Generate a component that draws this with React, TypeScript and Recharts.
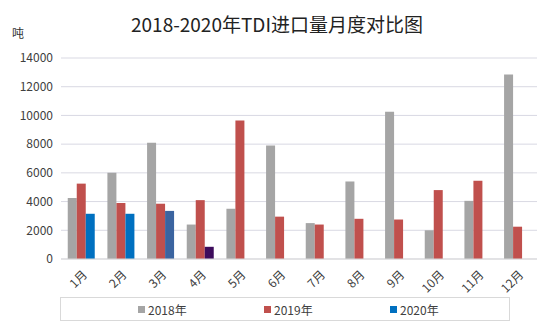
import { BarChart, Bar, XAxis, YAxis, CartesianGrid, Cell } from "recharts";

const months = ["1月", "2月", "3月", "4月", "5月", "6月", "7月", "8月", "9月", "10月", "11月", "12月"];
const y2018 = [4250, 6000, 8100, 2400, 3500, 7900, 2500, 5400, 10250, 2000, 4050, 12850];
const y2019 = [5250, 3900, 3850, 4100, 9650, 2950, 2400, 2800, 2750, 4800, 5450, 2250];
const y2020 = [3150, 3150, 3350, 850, null, null, null, null, null, null, null, null];
const yTicks = [0, 2000, 4000, 6000, 8000, 10000, 12000, 14000];

const series = [
  { key: "y2018", label: "2018年", color: "#a5a5a5" },
  { key: "y2019", label: "2019年", color: "#c0504d" },
  { key: "y2020", label: "2020年", color: "#0070c0" },
];
// the 2020 bars for March and April are drawn in their own shades
const color2020 = ["#0070c0", "#0070c0", "#3b64a0", "#3d0c5c"];

const data = months.map((m, i) => ({ month: m, y2018: y2018[i], y2019: y2019[i], y2020: y2020[i] }));

const font = "'Noto Sans CJK SC', 'Noto Sans', sans-serif";

function MonthTick({ x, y, payload }: any) {
  return (
    <g transform={`translate(${x},${y})`}>
      <text x={0} y={0} dy={11} dx={-1} textAnchor="end" transform="rotate(-45)" fill="#404040" fontSize={12} fontFamily={font}>
        {payload.value}
      </text>
    </g>
  );
}

export default function App() {
  return (
    <div style={{ position: "absolute", left: 0, top: 0, width: 554, height: 334, background: "#fff", fontFamily: font }}>
      <div style={{ position: "absolute", top: 10, left: 0, width: 554, textAlign: "center", fontSize: 19, color: "#222" }}>
        2018-2020年TDI进口量月度对比图
      </div>
      <div style={{ position: "absolute", top: 24, left: 12, fontSize: 12, color: "#333" }}>吨</div>
      <BarChart width={554} height={334} data={data} margin={{ top: 58, right: 17, left: 9, bottom: 35 }} barGap={0} barCategoryGap="17%">
        <CartesianGrid vertical={false} stroke="#d9d9e3" />
        <XAxis dataKey="month" tick={<MonthTick />} tickLine={false} axisLine={{ stroke: "#d9d9d9" }} interval={0} height={40} />
        <YAxis domain={[0, 14000]} ticks={yTicks} tickLine={false} axisLine={false} width={52} tick={{ fill: "#404040", fontSize: 12, fontFamily: font }} />
        <Bar dataKey="y2018" fill="#a5a5a5" isAnimationActive={false} />
        <Bar dataKey="y2019" fill="#c0504d" isAnimationActive={false} />
        <Bar dataKey="y2020" fill="#0070c0" isAnimationActive={false}>
          {data.map((d, i) => (
            <Cell key={d.month} fill={color2020[i] || "#0070c0"} />
          ))}
        </Bar>
      </BarChart>
      <div style={{ position: "absolute", left: 60, top: 297, width: 450, height: 24, border: "1px solid #d9d9d9", boxSizing: "border-box" }}>
        {series.map((s, i) => (
          <div key={s.key} style={{ position: "absolute", left: 77 + i * 126, top: 3, fontSize: 12, color: "#404040", display: "flex", alignItems: "center" }}>
            <span style={{ display: "inline-block", width: 7, height: 7, background: s.color, marginRight: 3 }} />
            {s.label}
          </div>
        ))}
      </div>
    </div>
  );
}
